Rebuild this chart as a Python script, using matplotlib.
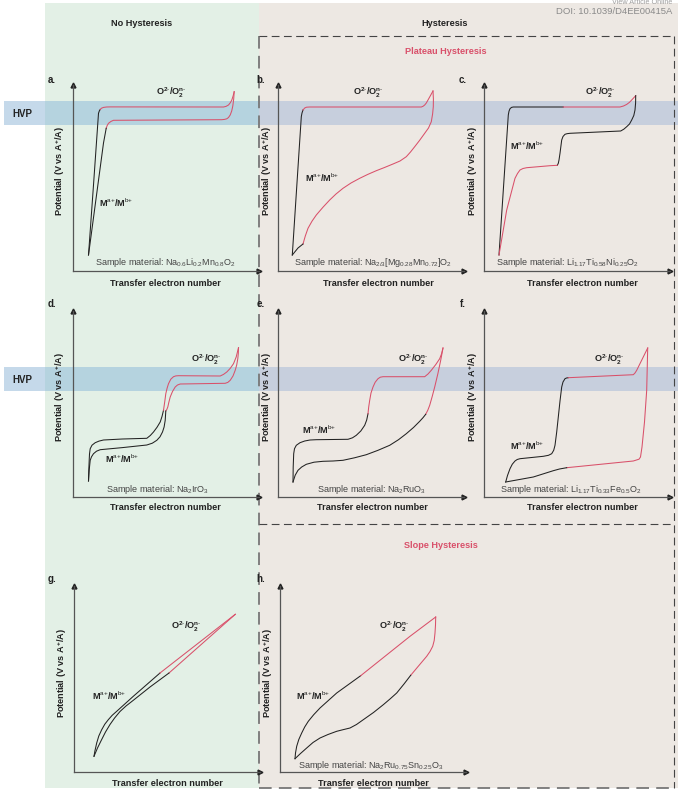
import matplotlib
matplotlib.use("Agg")
import matplotlib.pyplot as plt
from matplotlib.patches import Rectangle

plt.rcParams['font.family'] = ['Liberation Sans', 'DejaVu Sans']
plt.rcParams['mathtext.fontset'] = 'custom'
plt.rcParams['mathtext.rm'] = 'Liberation Sans'
plt.rcParams['mathtext.it'] = 'Liberation Sans'
plt.rcParams['mathtext.bf'] = 'Liberation Sans:bold'
plt.rcParams['mathtext.default'] = 'regular'

W, H = 678, 792
BLACK = '#222222'
RED = '#d9506a'
AXIS = '#555555'

letters = ['a.', 'b.', 'c.', 'd.', 'e.', 'f.', 'g.', 'h.']
samples = [
    'Sample material: Na$_{0.6}$Li$_{0.2}$Mn$_{0.8}$O$_{2}$',
    'Sample material: Na$_{2/3}$[Mg$_{0.28}$Mn$_{0.72}$]O$_{2}$',
    'Sample material: Li$_{1.17}$Ti$_{0.58}$Ni$_{0.25}$O$_{2}$',
    'Sample material: Na$_{2}$IrO$_{3}$',
    'Sample material: Na$_{2}$RuO$_{3}$',
    'Sample material: Li$_{1.17}$Ti$_{0.33}$Fe$_{0.5}$O$_{2}$',
    '',
    'Sample material: Na$_{2}$Ru$_{0.75}$Sn$_{0.25}$O$_{3}$',
]

# curve pieces per panel: (colour, x values, y values)
curves_a = [
    ('k', [16, 21, 26, 26.8, 27.7], [16, 86, 157.7, 160, 161.5]),
    ('r', [27.7, 29, 31, 34, 37.7, 151, 153.5, 156, 158, 159.3, 160.6, 161.7],
     [161.5, 162.8, 163.6, 164, 164.1, 164, 164.6, 166, 168.5, 171, 175, 179.3]),
    ('r', [161.7, 161.2, 160.3, 159.2, 157.7, 156, 154.3, 152, 149.3, 41, 38.5, 36, 34.7, 33.7],
     [179.3, 172, 165, 160, 156, 153.5, 152.2, 151.6, 151.3, 150.7, 149.6, 147.7, 145.5, 142.7]),
    ('k', [33.7, 31, 16], [142.7, 128, 16]),
]
curves_b = [
    ('k', [14.3, 23.3, 24, 25], [16, 154.3, 158, 161]),
    ('r', [25, 26.7, 28.5, 31.7, 143.3, 145, 146.7, 148.3, 150, 155],
     [161, 163, 163.8, 164, 164, 164.7, 166, 168, 171, 180]),
    ('r', [155, 155.4, 155.3, 154.6, 153.3, 150.5, 146.7, 141.5, 136.7, 132.5, 128.3, 122, 115, 106.5, 98.3,
           90, 81.7, 73, 65, 58, 51.7, 45, 38.3, 34, 30, 27.3, 25],
     [180, 172, 164.3, 157, 149.3, 143, 137.7, 130.5, 124.3, 119, 114.3, 110, 107, 103.5, 100.3,
      96.7, 92.7, 88, 82.7, 77, 71, 63.8, 56, 49.8, 42.7, 35, 27]),
    ('k', [25, 20, 14.3], [27, 23, 16]),
]
curves_c = [
    ('k', [15, 24.3, 25, 26, 27.5, 29.3, 79.3], [16, 156, 159.8, 162.3, 163.6, 164, 164]),
    ('r', [79.3, 136, 139.5, 142.7, 145.5, 147.7, 151.7], [164, 164, 165, 166.6, 168.7, 171, 175.3]),
    ('k', [151.7, 151.6, 151, 149.8, 147.7, 145.5, 142.7, 139.8, 136.7, 86, 83, 81, 79, 77.7, 76.8, 76, 75, 74.3, 73.3],
     [175.3, 168, 161, 155.5, 151, 147, 144.3, 141.8, 140, 137.7, 137.3, 136.7, 134.5, 131, 124, 117.7, 111, 107.7, 105.7]),
    ('r', [73.3, 66, 42.7, 39, 36, 33.5, 31, 22.7, 15], [105.7, 105.3, 103.3, 102.5, 101, 97.5, 92.7, 61, 16]),
]
curves_d = [
    ('k', [16, 16.3, 16.7, 17, 17.7, 19.5, 22.7, 26.5, 31, 50, 74.3, 77.8, 81, 84.5, 87.7, 89.5, 91],
     [16, 27, 36.7, 43, 48.3, 51.8, 54.3, 55.9, 57, 58, 58.7, 61.5, 65, 69.7, 75, 80.5, 86.7]),
    ('r', [91, 92.2, 93.3, 94.6, 96, 98.3, 101, 103.3, 106, 147.7, 151, 154.3, 157.8, 161, 163.7, 166],
     [86.7, 95, 103.3, 108.8, 113.3, 117.8, 120.3, 121.1, 121.3, 121, 122.6, 125, 128.7, 133.3, 140, 149.3]),
    ('r', [166, 165.8, 165.3, 164.2, 162.7, 160.5, 157.7, 155.3, 152.7, 107.7, 105, 102.7, 100, 97.7, 96.3, 95.3, 94.3, 93.3],
     [149.3, 143.5, 138.3, 132, 126.7, 121, 116.7, 114.6, 113.7, 113, 112, 110, 105.5, 100, 94.5, 90, 87.5, 86]),
    ('k', [93.3, 92.7, 91.6, 90, 87.5, 84.3, 79.8, 74.3, 50, 27.7, 24, 21, 19, 17.7, 16.7, 16],
     [86, 76.7, 70, 65, 60.2, 56.7, 53.8, 52, 49.4, 47.3, 45.8, 43.3, 40.2, 36.7, 27, 16]),
]
curves_e = [
    ('k', [15, 15.2, 15.7, 16.5, 18.3, 22, 26.7, 32, 38.3, 70, 74.5, 78.3, 82.8, 86.7, 88.7, 90],
     [15, 30, 43.3, 48.3, 51.7, 54.3, 56, 57, 57.3, 57.7, 59.2, 61.7, 66, 71.7, 77, 83.3]),
    ('r', [90, 90.7, 91.7, 93, 95, 97.2, 100, 102.3, 105, 146.7, 150, 153.3, 157.8, 161.7, 163.5, 165],
     [83.3, 90, 96.7, 104, 110, 114.8, 118.3, 119.8, 120.3, 120.3, 123, 126.7, 132.5, 138.3, 143, 149]),
    ('r', [165, 162.7, 159.8, 156.7, 154.2, 151.7, 149.8, 147.7], [149, 136.7, 123, 110, 100.5, 91.7, 86.8, 82.7]),
    ('k', [147.7, 145, 141.7, 135.5, 128.3, 120.5, 111.7, 100, 88.3, 76.5, 65, 55, 45, 36, 28.3, 23.7, 20, 17.2, 15],
     [82.7, 79.3, 75.7, 69.5, 63.3, 57.3, 51.7, 46.7, 42.3, 39.2, 36.7, 36, 35.7, 34.8, 32.7, 30, 26.7, 21.8, 15]),
]
curves_f = [
    ('k', [21.7, 23.5, 26, 28.3, 31, 33.2, 36, 59.3, 64.5, 67.7, 69.7, 71, 72.7, 74.3, 76, 77.7, 79, 81, 82.5, 84.3],
     [15, 21.5, 28.3, 32.8, 36, 37.5, 38.3, 40.7, 41.7, 43.3, 46.7, 51.7, 65, 80, 96, 110, 115, 118.3, 119, 119.3]),
    ('r', [84.3, 149.3, 151, 152.7, 163.7], [119.3, 122.3, 124, 126.7, 149]),
    ('r', [163.7, 163.2, 162.7, 160.5, 158, 156.5, 155, 149.3, 82.7], [149, 128, 106.7, 75, 50, 40, 37.8, 36, 29.3]),
    ('k', [82.7, 75.5, 69.3, 49.3, 21.7], [29.3, 28, 26.3, 20, 15]),
]
curves_g = [
    ('k', [20, 20.9, 22.7, 24.8, 27.7, 30.8, 34.3, 38.2, 42.7, 59.3, 86],
     [15.7, 21, 29, 36, 42.3, 47.8, 52.3, 56.7, 60.7, 75.7, 99]),
    ('r', [86, 161.3], [99, 157.7]),
    ('r', [161.3, 95], [157.7, 99]),
    ('k', [95, 76, 59.3, 52, 46, 40.6, 36, 31.5, 27.7, 23.5, 20],
     [99, 85, 71.7, 66, 60.5, 54, 47.5, 40, 32.5, 24, 15.7]),
]
curves_h = [
    ('k', [15, 15.5, 16.7, 18.8, 21.7, 24.7, 28.3, 33.7, 40, 56.7, 80.7],
     [13.3, 19, 25.7, 32.5, 39, 45, 50.7, 57.3, 64, 79, 96.3]),
    ('r', [80.7, 130, 155.7], [96.3, 135.7, 155]),
    ('r', [155.7, 155.5, 155, 154.2, 152.7, 150, 146.7, 138.5, 130.7],
     [155, 147, 139, 131.5, 125.7, 120.5, 115.7, 106, 96.7]),
    ('k', [130.7, 124, 116.7, 110, 103.3, 93.5, 83.3, 76.5, 70, 63, 56.7, 48, 40, 33, 26.7, 20.5, 15],
     [96.7, 88, 79, 73, 67.3, 59.5, 52.3, 47.5, 44, 42.3, 40.7, 37.5, 34, 29.5, 24, 18.5, 13.3]),
]
panel_curves = [curves_a, curves_b, curves_c, curves_d, curves_e, curves_f, curves_g, curves_h]

# layout in pixels of the picture
origins = [(72.5, 271), (278, 271), (484, 271), (72.5, 497), (278, 497), (484, 497), (74, 772), (280, 772)]
letter_pos = [(52, 80), (261, 80), (463, 80), (52, 304), (261, 304), (463, 304), (52, 579), (261, 579)]
ox_pos = [(171, 93), (368, 93), (600, 93), (206, 360), (413, 360), (609, 360), (186, 627), (394, 627)]
metal_pos = [(116, 203), (322, 178), (527, 146), (122, 459), (319, 430), (527, 446), (109, 696), (313, 696)]
sample_pos = [(165.5, 262.5), (373, 262.5), (568, 262.5), (158, 489), (372, 489), (571, 489), (0, 0), (370.5, 765)]
xlabel_pos = [(165, 283), (378, 283), (582, 283), (165, 508), (372, 508), (582, 508), (167, 784), (373, 784)]
ylabel_pos = [(60, 171), (267, 171), (473, 171), (60, 397), (267, 397), (473, 397), (62, 673), (268, 673)]

fig = plt.figure(figsize=(W / 100, H / 100), dpi=100)

# background layer in pixel coordinates
bg = fig.add_axes([0, 0, 1, 1])
bg.set_xlim(0, W)
bg.set_ylim(H, 0)
bg.axis('off')
bg.add_patch(Rectangle((45, 3), 214, 785, fc='#e3f0e6', ec='none'))
bg.add_patch(Rectangle((259, 3), 419, 785, fc='#ede8e3', ec='none'))
for y0 in [101, 367]:
    bg.add_patch(Rectangle((4, y0), 41, 24, fc='#c5d9ea', ec='none'))
    bg.add_patch(Rectangle((45, y0), 214, 24, fc='#b5d3df', ec='none'))
    bg.add_patch(Rectangle((259, y0), 419, 24, fc='#c7cfdd', ec='none'))

dash = (0, (7, 4))
bg.plot([259, 259], [36, 788], color='#777777', lw=1.3, ls=dash)
bg.plot([259, 674], [36, 36], color='#444444', lw=0.8, ls=dash)
bg.plot([674, 674], [36, 788], color='#444444', lw=0.8, ls=dash)
bg.plot([259, 674], [523.5, 523.5], color='#444444', lw=0.8, ls=dash)
bg.plot([259, 674], [788, 788], color='#777777', lw=1.3, ls=dash)

bg.text(142, 23, 'No Hysteresis', fontsize=6.6, fontweight='bold', ha='center', va='center', color='#222222')
bg.text(445, 23, 'Hysteresis', fontsize=6.6, fontweight='bold', ha='center', va='center', color='#222222')
bg.text(446, 51, 'Plateau Hysteresis', fontsize=6.6, fontweight='bold', ha='center', va='center', color=RED)
bg.text(441, 545, 'Slope Hysteresis', fontsize=6.6, fontweight='bold', ha='center', va='center', color=RED)
for y0 in [114, 380]:
    bg.text(22, y0, 'HVP', fontsize=7, fontweight='bold', ha='center', va='center', color='#222222')
bg.text(672, 11.5, 'DOI: 10.1039/D4EE00415A', fontsize=6.8, ha='right', va='center', color='#8a8a8a')
bg.text(672, 3, 'View Article Online', fontsize=5.2, ha='right', va='center', color='#a0a0a0')

for i in range(8):
    bg.text(*letter_pos[i], letters[i], fontsize=7, fontweight='bold', ha='center', va='center', color='#222222')
    bg.text(*ox_pos[i], r'O$^{2\text{-}}$/O$_{2}^{n\text{-}}$', fontsize=6.6, fontweight='bold',
            ha='center', va='center', color='#222222')
    bg.text(*metal_pos[i], r'M$^{\text{a+}}$/M$^{\text{b+}}$', fontsize=6.6, fontweight='bold',
            ha='center', va='center', color='#222222')
    if samples[i]:
        bg.text(*sample_pos[i], samples[i], fontsize=6.5, ha='center', va='center', color='#444444')
    bg.text(*xlabel_pos[i], 'Transfer electron number', fontsize=6.6, fontweight='bold',
            ha='center', va='center', color='#222222')
    bg.text(*ylabel_pos[i], r'Potential (V vs A$^{+}$/A)', fontsize=6.6, fontweight='bold', rotation=90,
            ha='center', va='center', color='#222222')

# the eight small plots
for i in range(8):
    ox, oy = origins[i]
    ax = fig.add_axes([ox / W, (H - oy) / H, 186 / W, 186 / H])
    ax.patch.set_alpha(0)
    ax.set_xlim(0, 186)
    ax.set_ylim(0, 186)
    ax.set_xticks([])
    ax.set_yticks([])
    ax.spines['top'].set_visible(False)
    ax.spines['right'].set_visible(False)
    for s in ['left', 'bottom']:
        ax.spines[s].set_color(AXIS)
        ax.spines[s].set_linewidth(0.9)
    ax.plot(1, 0, '>', color='#222222', ms=3.5, transform=ax.transAxes, clip_on=False)
    ax.plot(0, 1, '^', color='#222222', ms=3.5, transform=ax.transAxes, clip_on=False)
    for c, xs, ys in panel_curves[i]:
        ax.plot(xs, ys, color=BLACK if c == 'k' else RED, lw=0.75, solid_joinstyle='round')

fig.savefig('out.png', dpi=100)
